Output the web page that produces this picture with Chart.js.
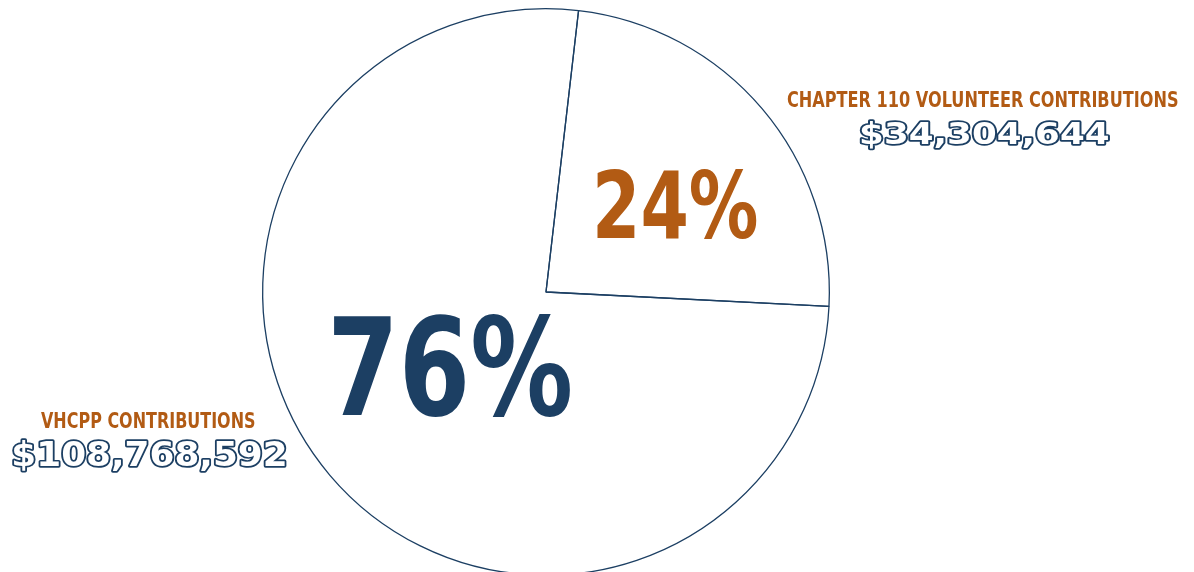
<!DOCTYPE html>
<html>
<head>
<meta charset="utf-8">
<script src="https://cdn.jsdelivr.net/npm/chart.js@4.4.1/dist/chart.umd.min.js"></script>
<style>
    html, body { margin: 0; padding: 0; background: #fff; overflow: hidden; }
    #wrap { position: relative; width: 1194px; height: 620px; }
</style>
</head>
<body>
<div id="wrap"><canvas id="chart"></canvas></div>
<script>
const categories = ['CHAPTER 110 VOLUNTEER CONTRIBUTIONS', 'VHCPP CONTRIBUTIONS'];
const amounts = [34304644, 108768592];
const amountLabels = ['$34,304,644', '$108,768,592'];

const NAVY = '#1c3f63';
const ORANGE = '#b25b14';
const NARROW = '"Liberation Sans Narrow", "DejaVu Sans Condensed", sans-serif';
const WIDE = '"DejaVu Sans", sans-serif';

// draw text squeezed/stretched so it spans x0..x1
function drawFit(ctx, text, x0, x1, baseline, size, family, fill, stroke) {
    ctx.save();
    ctx.font = 'bold ' + size + 'px ' + family;
    ctx.textBaseline = 'alphabetic';
    ctx.textAlign = 'left';
    const m = ctx.measureText(text);
    const w = m.actualBoundingBoxLeft + m.actualBoundingBoxRight;
    ctx.translate(x0, 0);
    ctx.scale((x1 - x0) / w, 1);
    if (stroke) {
        ctx.lineJoin = 'round';
        ctx.lineWidth = 3.4;
        ctx.strokeStyle = stroke;
        ctx.strokeText(text, m.actualBoundingBoxLeft, baseline);
    }
    ctx.fillStyle = fill;
    ctx.fillText(text, m.actualBoundingBoxLeft, baseline);
    ctx.restore();
}

const labelPlugin = {
    id: 'labels',
    afterDraw(chart) {
        const ctx = chart.ctx;
        const total = amounts.reduce((a, b) => a + b, 0);
        const pct = amounts.map(v => Math.round(v / total * 100) + '%');

        drawFit(ctx, pct[0], 597, 757, 238, 93, NARROW, ORANGE);
        drawFit(ctx, pct[1], 334, 570, 415, 136, NARROW, NAVY);

        drawFit(ctx, categories[0], 787, 1178, 107, 21, NARROW, ORANGE);
        drawFit(ctx, amountLabels[0], 861.5, 1108.5, 143.5, 30, WIDE, '#fff', NAVY);

        drawFit(ctx, categories[1], 41, 255, 428, 21, NARROW, ORANGE);
        drawFit(ctx, amountLabels[1], 13.5, 285.5, 465.5, 33, WIDE, '#fff', NAVY);
    }
};

new Chart(document.getElementById('chart').getContext('2d'), {
    type: 'pie',
    data: {
        labels: categories,
        datasets: [{
            data: amounts,
            backgroundColor: 'rgba(255,255,255,0)',
            borderColor: NAVY,
            borderWidth: 1.3
        }]
    },
    options: {
        responsive: true,
        maintainAspectRatio: false,
        animation: false,
        rotation: 6.6,
        layout: { padding: { left: 262, right: 364, top: 8, bottom: 44 } },
        plugins: {
            legend: { display: false },
            tooltip: { enabled: false }
        }
    },
    plugins: [labelPlugin]
});
</script>
</body>
</html>
